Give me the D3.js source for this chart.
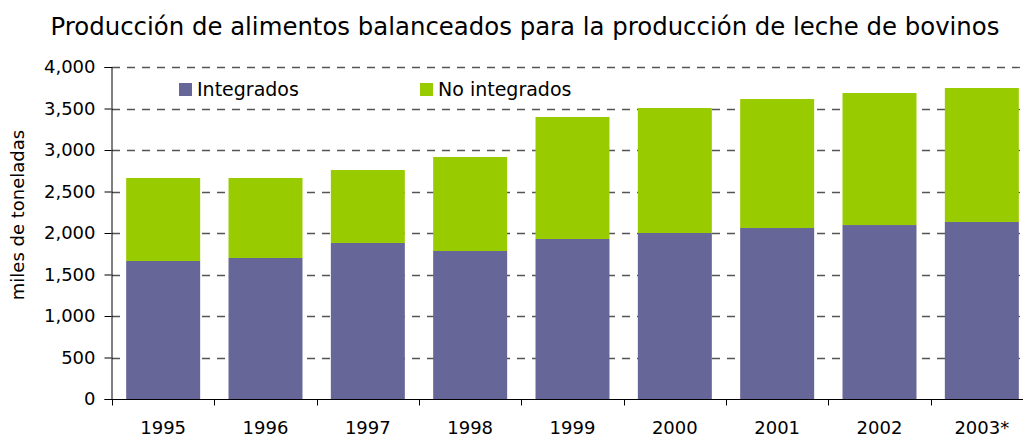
<!DOCTYPE html>
<html>
<head>
<meta charset="utf-8">
<script src="https://cdn.jsdelivr.net/npm/d3@7"></script>
<style>
  body { margin: 0; background: #fff; }
  text { font-family: "DejaVu Sans", Verdana, sans-serif; fill: #000; }
</style>
</head>
<body>
<div id="chart"></div>
<script>

// Data
var years = ["1995", "1996", "1997", "1998", "1999", "2000", "2001", "2002", "2003*"];
var integrados = [1663, 1699, 1880, 1783, 1928, 2000, 2060, 2096, 2133];
var noIntegrados = [1000, 964, 879, 1133, 1470, 1506, 1554, 1591, 1614];
var seriesNames = ["Integrados", "No integrados"];
var yTicks = [0, 500, 1000, 1500, 2000, 2500, 3000, 3500, 4000];

var makeChart = function() {

    //Width and Height
    var w = 1023;
    var h = 436;
    var margin = {top: 67, right: -10, bottom: 37, left: 112};

    var colors = ["#666699", "#99CC00"];

    var rows = years.map(function(y, i) {
        return {year: y, Integrados: integrados[i], "No integrados": noIntegrados[i]};
    });
    var stacked = d3.stack().keys(seriesNames)(rows);

    var x = d3.scaleBand()
        .domain(years)
        .range([margin.left, w - margin.right])
        .paddingInner(0.277)
        .paddingOuter(0.1385);

    var y = d3.scaleLinear()
        .domain([0, 4000])
        .range([h - margin.bottom, margin.top]);

    var svg = d3.select("#chart")
        .append("svg")
        .attr("width", w)
        .attr("height", h);

    //Title
    svg.append("text")
        .attr("x", 525)
        .attr("y", 35)
        .attr("text-anchor", "middle")
        .style("font-size", "24.4px")
        .text("Producción de alimentos balanceados para la producción de leche de bovinos");

    //Dashed gridlines
    svg.append("g")
        .selectAll("line")
        .data(yTicks.filter(d => d > 0))
        .enter()
        .append("line")
        .attr("x1", margin.left)
        .attr("x2", w)
        .attr("y1", d => Math.round(y(d)) + 0.5)
        .attr("y2", d => Math.round(y(d)) + 0.5)
        .style("stroke", "#555")
        .style("stroke-width", 1.3)
        .style("stroke-dasharray", "8,7");

    //Bars
    svg.append("g")
        .selectAll("g")
        .data(stacked)
        .enter()
        .append("g")
        .attr("fill", (d, i) => colors[i])
        .selectAll("rect")
        .data(d => d)
        .enter()
        .append("rect")
        .attr("x", d => x(d.data.year))
        .attr("width", x.bandwidth())
        .attr("y", d => y(d[1]))
        .attr("height", d => y(d[0]) - y(d[1]));

    //Y axis
    var yAxis = svg.append("g")
        .attr("transform", "translate(" + (margin.left - 0.5) + ",0)")
        .call(d3.axisLeft(y).tickValues(yTicks).tickFormat(d3.format(",")).tickSizeOuter(0).tickSize(7).tickPadding(9));
    yAxis.select(".domain").style("stroke", "#000");
    yAxis.selectAll("text").style("font-size", "18px");
    yAxis.selectAll("line").style("stroke", "#000");

    //X axis
    var step = x.step();
    var boundaries = d3.range(years.length + 1).map(i => x.range()[0] + i * step);
    var xAxis = svg.append("g")
        .attr("transform", "translate(0," + (y(0) + 0.5) + ")");
    xAxis.append("line")
        .attr("x1", margin.left - 0.5)
        .attr("x2", w)
        .style("stroke", "#000");
    xAxis.selectAll(".tk")
        .data(boundaries)
        .enter()
        .append("line")
        .attr("class", "tk")
        .attr("x1", d => Math.round(d) + 0.5)
        .attr("x2", d => Math.round(d) + 0.5)
        .attr("y1", 0)
        .attr("y2", 6)
        .style("stroke", "#000");
    xAxis.selectAll("text")
        .data(years)
        .enter()
        .append("text")
        .attr("x", d => x(d) + x.bandwidth() / 2)
        .attr("y", 34)
        .attr("text-anchor", "middle")
        .style("font-size", "18px")
        .text(d => d);

    //Y axis title
    svg.append("text")
        .attr("transform", "translate(24," + 215 + ") rotate(-90)")
        .attr("text-anchor", "middle")
        .style("font-size", "18px")
        .text("miles de toneladas");

    //Legend
    var legendX = [179, 420];
    var legend = svg.append("g")
        .selectAll("g")
        .data(seriesNames)
        .enter()
        .append("g")
        .attr("transform", (d, i) => "translate(" + legendX[i] + ",83)");
    legend.append("rect")
        .attr("width", 13)
        .attr("height", 13)
        .attr("fill", (d, i) => colors[i]);
    legend.append("text")
        .attr("x", 18)
        .attr("y", 13)
        .style("font-size", "19px")
        .text(d => d);
}

makeChart();
</script>
</body>
</html>
